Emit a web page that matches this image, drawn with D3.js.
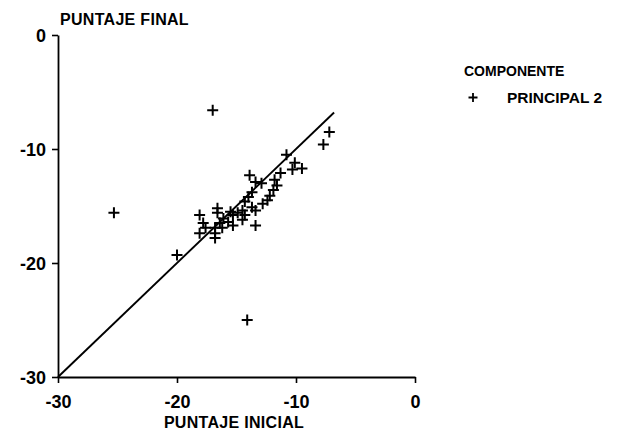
<!DOCTYPE html>
<html><head><meta charset="utf-8">
<script src="https://cdn.jsdelivr.net/npm/d3@7"></script>
<style>
body{margin:0;background:#fff;}
text{font-family:"Liberation Sans",Arial,sans-serif;font-weight:bold;fill:#000;}
</style></head>
<body>
<svg id="c" width="626" height="431"></svg>
<script>
const inicial = [-25.3,-17.0,-14.1,-20.0,-7.2,-7.7,-10.8,-10.1,-9.5,-10.3,-11.3,-11.8,-11.6,-13.9,-13.4,-12.9,-11.9,-12.2,-12.4,-12.8,-13.7,-14.0,-14.3,-13.7,-14.5,-14.9,-13.4,-14.3,-15.3,-15.5,-16.6,-16.6,-16.1,-15.7,-16.4,-16.2,-16.8,-18.1,-17.8,-17.6,-16.8,-13.4,-15.3,-14.5,-18.1,-16.8];
const final = [-15.6,-6.6,-25.0,-19.3,-8.5,-9.6,-10.5,-11.2,-11.7,-11.8,-12.1,-12.7,-13.2,-12.3,-12.9,-13.0,-13.6,-14.1,-14.5,-14.8,-13.8,-14.2,-14.6,-15.1,-15.4,-15.6,-15.4,-15.8,-15.8,-15.5,-15.2,-15.6,-16.1,-16.4,-16.5,-16.9,-17.4,-15.8,-16.5,-16.9,-16.9,-16.7,-16.7,-16.2,-17.4,-17.8];
const xTicks = [-30,-20,-10,0];
const yTicks = [0,-10,-20,-30];
const refLine = [-30,-6.8];
const xTitle = "PUNTAJE INICIAL";
const yTitle = "PUNTAJE FINAL";
const legendTitle = "COMPONENTE";
const seriesName = "PRINCIPAL 2";

const svg = d3.select("#c");
const x = d3.scaleLinear().domain([-30,0]).range([58,415]);
const y = d3.scaleLinear().domain([-30,0]).range([377,35]);
const fmt = d => d===0 ? "0" : "-" + Math.abs(d);

// y axis
const ya = svg.append("g").attr("transform","translate(58,0)")
  .call(d3.axisLeft(y).tickValues(yTicks).tickSize(6).tickSizeOuter(0).tickFormat(fmt));
ya.select(".domain").attr("stroke","#000").attr("stroke-width",1.8);
ya.selectAll(".tick line").attr("stroke","#000").attr("stroke-width",1.6);
ya.selectAll(".tick text").attr("x",-12).attr("dy","0.36em")
  .attr("font-size",18).attr("font-family","Liberation Sans, Arial, sans-serif").attr("font-weight","bold");

// x axis
const xa = svg.append("g").attr("transform","translate(0,377)")
  .call(d3.axisBottom(x).tickValues(xTicks).tickSize(6).tickSizeOuter(0).tickFormat(fmt));
xa.select(".domain").attr("stroke","#000").attr("stroke-width",1.8);
xa.selectAll(".tick line").attr("stroke","#000").attr("stroke-width",1.6);
xa.selectAll(".tick text").attr("y",31).attr("dy",0)
  .attr("font-size",18).attr("font-family","Liberation Sans, Arial, sans-serif").attr("font-weight","bold");

// titles
svg.append("text").attr("x",60).attr("y",25).attr("font-size",16).attr("letter-spacing",0.3).text(yTitle);
svg.append("text").attr("x",234).attr("y",428).attr("text-anchor","middle").attr("font-size",16).attr("letter-spacing",0.3).text(xTitle);

// reference line
svg.append("line")
  .attr("x1",x(refLine[0])).attr("y1",y(refLine[0]))
  .attr("x2",x(refLine[1])).attr("y2",y(refLine[1]))
  .attr("stroke","#000").attr("stroke-width",1.9);

// points
const pts = inicial.map((v,i)=>({x:v,y:final[i]}));
const s = 5.5;
svg.append("g").selectAll("path").data(pts).join("path")
  .attr("d",p=>{const cx=x(p.x), cy=y(p.y); return `M${cx-s},${cy}H${cx+s}M${cx},${cy-s}V${cy+s}`;})
  .attr("stroke","#000").attr("stroke-width",2).attr("fill","none");

// legend
svg.append("text").attr("x",464).attr("y",76).attr("font-size",14).text(legendTitle);
const lx=473, ly=97.5;
svg.append("path").attr("d",`M${lx-4.5},${ly}H${lx+4.5}M${lx},${ly-4.5}V${ly+4.5}`).attr("stroke","#000").attr("stroke-width",1.8);
svg.append("text").attr("x",507).attr("y",103).attr("font-size",15.5).text(seriesName);
</script>
</body></html>
